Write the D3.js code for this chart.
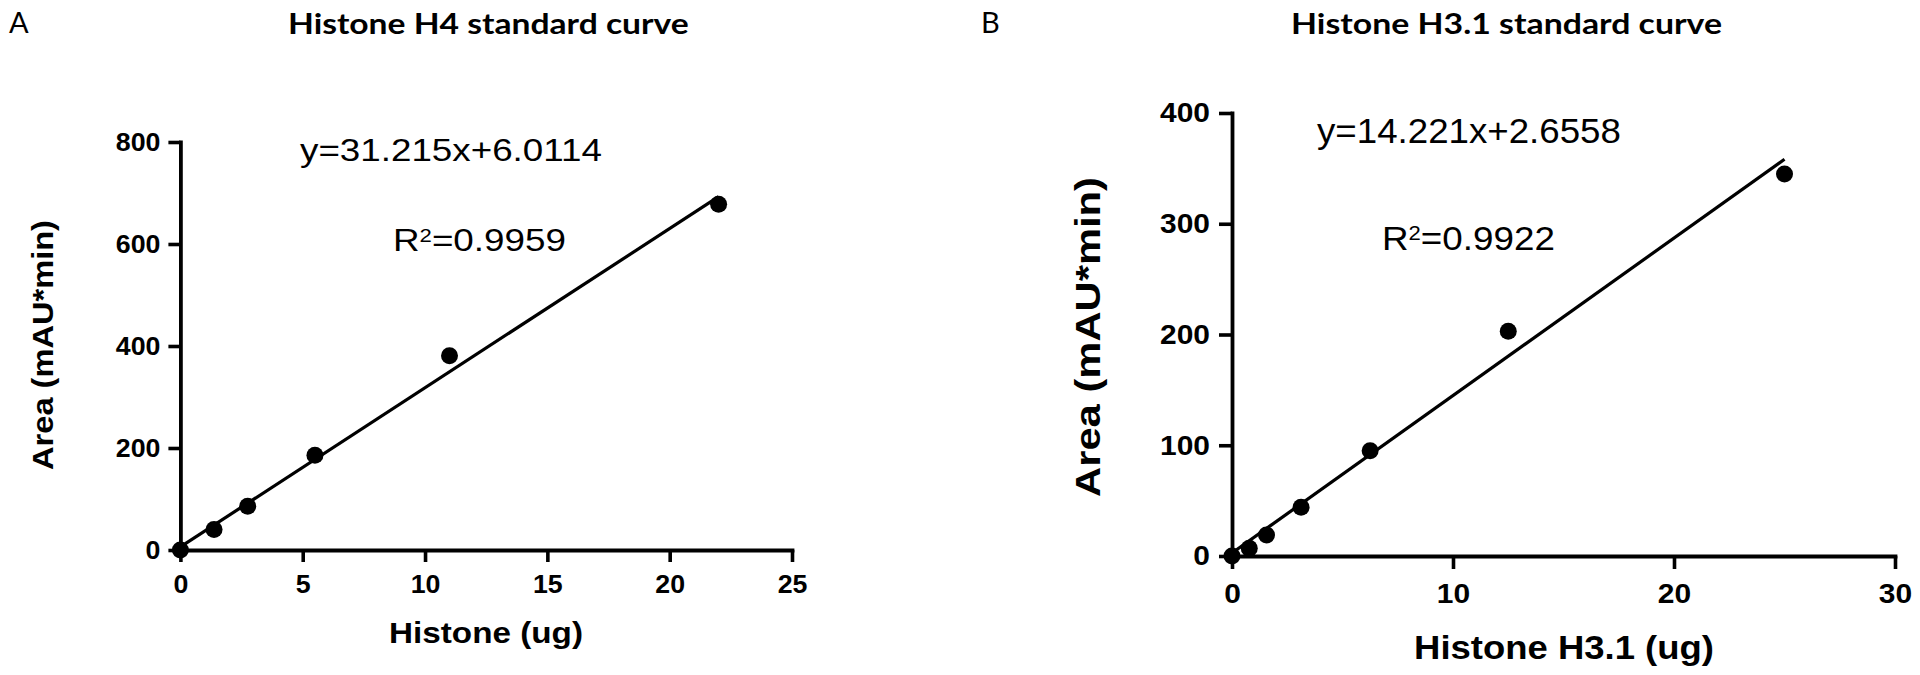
<!DOCTYPE html>
<html>
<head>
<meta charset="utf-8">
<script src="https://cdn.jsdelivr.net/npm/d3@7"></script>
<style>
  html, body { margin: 0; padding: 0; background: #ffffff; }
  svg { display: block; }
</style>
</head>
<body>
<svg id="chart" width="1920" height="675"></svg>
<script>
// ---------------- DATA ----------------
const panelLetters = ["A", "B"];
const panelTitles = ["Histone H4 standard curve", "Histone H3.1 standard curve"];
const xAxisLabels = ["Histone (ug)", "Histone H3.1 (ug)"];
const yAxisLabel = "Area (mAU*min)";

// Panel A: Histone H4
const h4Amount = [0, 1.375, 2.75, 5.5, 11, 22];
const h4Area   = [0, 40, 86, 186, 381, 678];
const h4XTicks = [0, 5, 10, 15, 20, 25];
const h4YTicks = [0, 200, 400, 600, 800];

// Panel B: Histone H3.1
const h31Amount = [0, 0.78125, 1.5625, 3.125, 6.25, 12.5, 25];
const h31Area   = [0, 7, 19, 44, 95, 203, 345];
const h31XTicks = [0, 10, 20, 30];
const h31YTicks = [0, 100, 200, 300, 400];

// Linear fits
const fitSlopes     = [31.215, 14.221];
const fitIntercepts = [6.0114, 2.6558];
const fitR2         = ["0.9959", "0.9922"];

// ---------------- LAYOUT ----------------
const svg = d3.select("#chart");
const FONT = "'Liberation Sans', Arial, sans-serif";
const TITLE_FONT = "Lato, 'Open Sans', sans-serif";

const panels = [
  {
    xs: h4Amount, ys: h4Area, xTicks: h4XTicks, yTicks: h4YTicks,
    xDomain: [0, 25], yDomain: [0, 800],
    xRange: [180.4, 792], yRange: [550, 142],
    tickFont: 25, xTickPad: 13, yTickPad: 8, tickLen: 12,
    letter: { x: 9, y: 33 },
    title: { x: 288, y: 34, w: 401 },
    eq: { x: 300, y: 161, w: 302, size: 31 },
    r2: { x: 393, y: 251, w: 173, size: 31 },
    xl: { x: 486, y: 643, w: 194, size: 30 },
    yl: { x: 53, y: 345, w: 250, size: 30 }
  },
  {
    xs: h31Amount, ys: h31Area, xTicks: h31XTicks, yTicks: h31YTicks,
    xDomain: [0, 30], yDomain: [0, 400],
    xRange: [1232, 1895], yRange: [556, 113],
    tickFont: 28, xTickPad: 14, yTickPad: 9, tickLen: 13,
    letter: { x: 981, y: 33 },
    title: { x: 1291, y: 34, w: 431 },
    eq: { x: 1317, y: 143, w: 304, size: 35 },
    r2: { x: 1382, y: 250, w: 173, size: 33 },
    xl: { x: 1564, y: 659, w: 300, size: 33 },
    yl: { x: 1100, y: 337, w: 320, size: 35 }
  }
];

// text helper: places text and stretches horizontally to a target width
function fitText(g, opt) {
  const t = g.append("text")
    .attr("x", 0).attr("y", 0)
    .attr("font-family", opt.family || FONT)
    .attr("font-size", opt.size)
    .attr("font-weight", opt.weight || "normal")
    .attr("text-anchor", opt.anchor || "start")
    .attr("fill", "#000");
  if (opt.build) opt.build(t); else t.text(opt.text);
  let sx = 1;
  if (opt.w) {
    const w = t.node().getBBox().width;
    if (w > 0) sx = opt.w / w;
  }
  t.attr("transform", `translate(${opt.x},${opt.y})` + (opt.rotate ? ` rotate(${opt.rotate})` : "") + ` scale(${sx},1)`);
  return t;
}

panels.forEach((p, i) => {
  const g = svg.append("g");
  const x = d3.scaleLinear().domain(p.xDomain).range(p.xRange);
  const y = d3.scaleLinear().domain(p.yDomain).range(p.yRange);

  // fit line
  const xMax = d3.max(p.xs);
  const fitPts = [0, xMax].map(v => [v, fitSlopes[i] * v + fitIntercepts[i]]);
  g.append("path")
    .datum(fitPts)
    .attr("d", d3.line().x(d => x(d[0])).y(d => y(d[1])))
    .attr("fill", "none").attr("stroke", "#000").attr("stroke-width", 3.2);

  // axes
  const xAxis = g.append("g").attr("transform", `translate(0,${p.yRange[0]})`)
    .call(d3.axisBottom(x).tickValues(p.xTicks).tickFormat(d3.format("d"))
      .tickSize(p.tickLen).tickSizeOuter(0).tickPadding(p.xTickPad));
  const yAxis = g.append("g").attr("transform", `translate(${p.xRange[0]},0)`)
    .call(d3.axisLeft(y).tickValues(p.yTicks).tickFormat(d3.format("d"))
      .tickSize(p.tickLen).tickSizeOuter(0).tickPadding(p.yTickPad));

  [xAxis, yAxis].forEach(ax => {
    ax.select(".domain").attr("stroke", "#000").attr("stroke-width", 3.8).attr("stroke-linecap", "square");
    ax.selectAll(".tick line").attr("stroke", "#000").attr("stroke-width", 3.6);
    ax.selectAll(".tick text")
      .attr("font-family", FONT).attr("font-size", p.tickFont)
      .attr("font-weight", "bold").attr("fill", "#000");
  });
  xAxis.selectAll(".tick text").each(function () {
    const t = d3.select(this);
    const yy = +t.attr("y");
    t.attr("y", 0).attr("transform", `translate(0,${yy}) scale(1.07,1)`);
  });
  yAxis.selectAll(".tick text").each(function () {
    const t = d3.select(this);
    const xx = +t.attr("x");
    t.attr("x", 0).attr("transform", `translate(${xx},0) scale(1.07,1)`);
  });

  // points
  g.selectAll("circle.pt")
    .data(p.xs.map((v, k) => [v, p.ys[k]]))
    .join("circle")
    .attr("class", "pt")
    .attr("cx", d => x(d[0])).attr("cy", d => y(d[1]))
    .attr("r", 8.5).attr("fill", "#000");

  // panel letter
  fitText(g, { x: p.letter.x, y: p.letter.y, text: panelLetters[i], size: 29, family: TITLE_FONT });

  // title
  fitText(g, { x: p.title.x, y: p.title.y, w: p.title.w, text: panelTitles[i], size: 29, weight: "bold", family: TITLE_FONT });

  // equation
  fitText(g, { x: p.eq.x, y: p.eq.y, w: p.eq.w, size: p.eq.size,
    text: `y=${fitSlopes[i]}x+${fitIntercepts[i]}` });

  // R^2
  const rs = p.r2.size;
  fitText(g, { x: p.r2.x, y: p.r2.y, w: p.r2.w, size: rs, build: t => {
    t.append("tspan").text("R");
    t.append("tspan").attr("font-size", rs * 0.6).attr("dy", -rs * 0.29).text("2");
    t.append("tspan").attr("dy", rs * 0.29).text("=" + fitR2[i]);
  }});

  // axis labels
  fitText(g, { x: p.xl.x, y: p.xl.y, w: p.xl.w, size: p.xl.size, weight: "bold", anchor: "middle", text: xAxisLabels[i] });
  fitText(g, { x: p.yl.x, y: p.yl.y, w: p.yl.w, size: p.yl.size, weight: "bold", anchor: "middle", rotate: -90, text: yAxisLabel });
});
</script>
</body>
</html>
